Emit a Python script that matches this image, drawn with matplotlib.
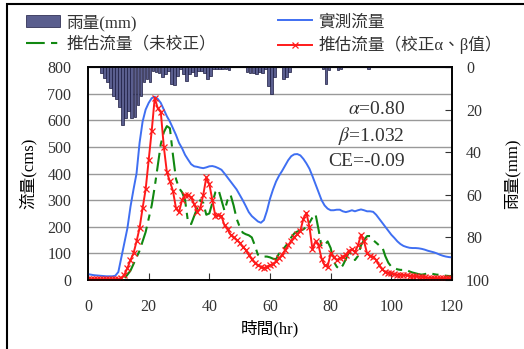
import matplotlib
matplotlib.use("Agg")
import matplotlib.pyplot as plt
from matplotlib.patches import Rectangle
import numpy as np

plt.rcParams['font.family'] = ['Liberation Serif', 'Noto Sans CJK TC']
plt.rcParams['mathtext.fontset'] = 'stix'

hours = list(range(0, 121))

observed = [22, 20, 18, 17, 16, 15, 14, 14, 14, 16,
            30, 85, 140, 195, 275, 340, 400, 515, 595, 640,
            665, 683, 688, 680, 665, 640, 615, 595, 570, 545,
            515, 495, 470, 452, 435, 427, 425, 422, 420, 423,
            427, 428, 425, 420, 414, 400, 385, 370, 355, 340,
            320, 300, 278, 255, 240, 230, 220, 215, 225, 260,
            305, 340, 370, 392, 410, 430, 450, 465, 472, 473,
            468, 455, 438, 418, 390, 360, 330, 300, 280, 268,
            262, 262, 264, 264, 258, 255, 258, 262, 258, 262,
            265, 262, 258, 258, 256, 245, 230, 215, 200, 185,
            170, 158, 145, 135, 128, 124, 121, 120, 120, 119,
            117, 114, 110, 107, 104, 100, 95, 91, 88, 86, 85]

est_raw = [0, 0, 0, 0, 0, 0, 0, 0, 0, 0,
           0, 0, 5, 20, 35, 60, 85, 110, 145, 180,
           230, 280, 350, 430, 510, 555, 578, 570, 470, 380,
           345, 330, 300, 215, 210, 240, 270, 300, 290, 245,
           250, 290, 330, 340, 300, 260, 300, 320, 280, 230,
           200, 178, 172, 168, 160, 130, 95, 88, 88, 88,
           85, 80, 78, 100, 112, 125, 140, 160, 175, 182,
           186, 190, 200, 215, 235, 248, 190, 125, 130, 145,
           120, 70, 50, 40, 55, 78, 105, 95, 75, 90,
           130, 150, 165, 165, 150, 140, 130, 125, 90, 65,
           50, 45, 40, 38, 38, 38, 32, 28, 25, 22,
           20, 22, 25, 25, 22, 20, 20, 18, 16, 15, 15]

est_cal = [2, 2, 2, 2, 2, 2, 2, 2, 2, 2,
           2, 8, 20, 45, 75, 100, 145, 195, 270, 340,
           450, 560, 684, 645, 630, 500, 405, 370, 335, 270,
           255, 300, 320, 318, 310, 285, 255, 270, 320, 385,
           360, 300, 240, 245, 240, 205, 190, 170, 160, 150,
           140, 125, 113, 95, 78, 65, 55, 50, 45, 50,
           56, 60, 70, 82, 95, 113, 130, 148, 160, 172,
           185, 230, 252, 200, 115, 145, 130, 80, 55, 50,
           100, 85, 75, 82, 88, 95, 110, 115, 105, 130,
           170, 145, 100, 90, 88, 75, 55, 40, 30, 28,
           25, 22, 20, 20, 19, 18, 16, 15, 14, 13,
           12, 10, 9, 8, 7, 6, 6, 6, 6, 6, 6]

rain_hours = list(range(0, 120))
rain = [0, 0, 0, 0, 3, 5, 7, 10, 13.5, 15,
        19, 27, 24, 20.5, 24, 23.5, 18, 13.5, 7, 5.5,
        7, 2, 2.5, 3, 4.8, 3.3, 1.7, 8, 8.3, 4,
        1, 3.3, 6.4, 3.3, 2.5, 4, 1.7, 1.7, 3, 5.6,
        4, 0.8, 0.8, 0.8, 0.8, 0.8, 1.2, 0, 0, 0,
        0, 0, 2.5, 3, 3, 3.5, 2.5, 3, 1, 9,
        12.5, 4.7, 0, 0, 5.5, 4.7, 2.3, 0, 0, 0,
        0, 0, 0, 0, 0, 0, 0, 0.8, 7.8, 1.5,
        0, 0, 1.2, 1, 0, 0, 0, 0, 0, 0,
        0, 0, 0.8, 0, 0, 0, 0, 0, 0, 0,
        0, 0, 0, 0, 0, 0, 0, 0, 0, 0,
        0, 0, 0, 0, 0, 0, 0, 0, 0, 0]

labels = ['雨量(mm)', '實測流量', '推估流量（未校正）', '推估流量（校正α、β值）']

fig = plt.figure(figsize=(5.24, 3.49), dpi=100)
ax = fig.add_axes([88/524, 69/349, 364/524, 213/349])

ax.set_xlim(0, 120)
ax.set_ylim(0, 800)
ax.set_yticks(range(0, 801, 100))
ax.set_xticks(range(0, 121, 20))
ax.yaxis.grid(True, color='#999999', linewidth=1)
ax.set_axisbelow(True)

l_obs, = ax.plot(hours, observed, color='#3F6FF2', linewidth=1.4, zorder=3)
l_raw, = ax.plot(hours, est_raw, color='#118811', linewidth=1.5,
                 linestyle=(0, (9, 3, 3, 3)), zorder=4)
l_cal, = ax.plot(hours, est_cal, color='#FF1A1A', linewidth=1.4, marker='x',
                 markersize=4, markeredgewidth=0.9, zorder=5)

ax.tick_params(axis='y', length=0, labelsize=11.5, pad=12, colors='#333333')
ax.tick_params(axis='x', direction='in', length=5, labelsize=11.5, pad=14,
               colors='#333333')
for s in ax.spines.values():
    s.set_color('black')
    s.set_linewidth(1.2)

ax2 = ax.twinx()
bars = ax2.bar(rain_hours, rain, width=0.9, align='edge', color='#5A5E8E',
               edgecolor='#1a1a40', linewidth=0.5, zorder=2)
ax2.set_ylim(100, 0)
ax2.set_yticks(range(0, 101, 20))
ax2.tick_params(axis='y', direction='in', length=5, labelsize=11.5, pad=10,
                colors='#333333')
for s in ax2.spines.values():
    s.set_color('black')
    s.set_linewidth(1.2)

ax.set_xlabel('時間(hr)', fontsize=12, labelpad=3)
ax.set_ylabel('流量(cms)', fontsize=12, labelpad=8)
ax2.set_ylabel('雨量(mm)', fontsize=12, rotation=90, labelpad=10)

ax.text(0.87, 0.80, r'$\alpha$=0.80', transform=ax.transAxes, ha='right',
        va='center', fontsize=14, color='#333333')
ax.text(0.87, 0.678, r'$\beta$=1.032', transform=ax.transAxes, ha='right',
        va='center', fontsize=14, color='#333333')
ax.text(0.87, 0.556, 'CE=-0.09', transform=ax.transAxes, ha='right',
        va='center', fontsize=14, color='#333333')

leg1 = fig.legend([bars, l_raw], [labels[0], labels[2]],
                  loc='upper left', bbox_to_anchor=(18/524, 1 - 6/349),
                  frameon=False, fontsize=12, handlelength=2.0,
                  handletextpad=0.4, labelspacing=0.35, borderpad=0)
leg2 = fig.legend([l_obs, l_cal], [labels[1], labels[3]],
                  loc='upper left', bbox_to_anchor=(270/524, 1 - 6/349),
                  frameon=False, fontsize=12, handlelength=2.0,
                  handletextpad=0.4, labelspacing=0.35, borderpad=0)
for leg in (leg1, leg2):
    for t in leg.get_texts():
        t.set_color('#333333')

fig.patches.append(Rectangle((7/524, -0.1), 1.2, 1.1 - 4/349 + 0.0,
                             transform=fig.transFigure, fill=False,
                             edgecolor='black', linewidth=1.5))

fig.savefig('out.png', dpi=100)
